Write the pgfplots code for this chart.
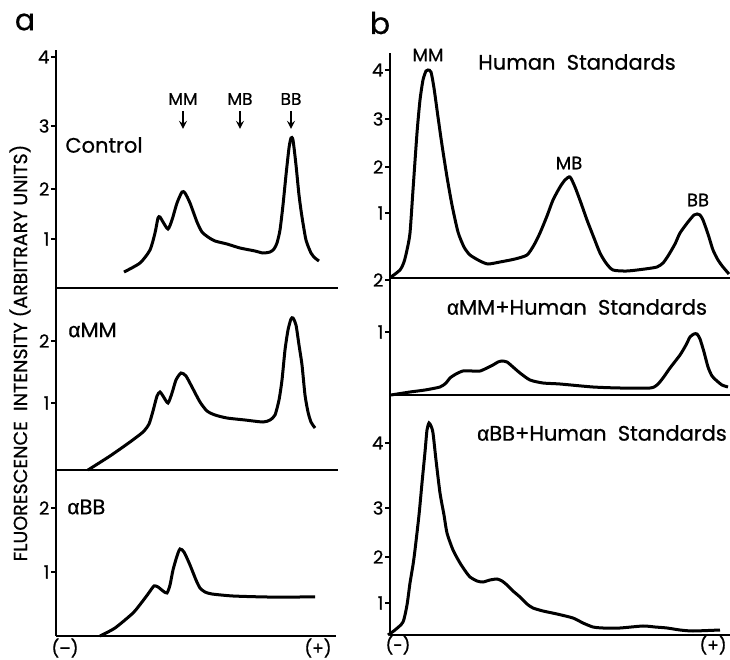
\documentclass[border=0pt]{standalone}
\usepackage{fontspec}
\setmainfont{Poppins}[FakeBold=0.7]
\newfontfamily\gk{Liberation Sans}[FakeBold=0.7]
\usepackage{pgfplots}
\pgfplotsset{compat=1.18}
\newcommand\fs[1]{\fontsize{#1}{#1}\selectfont}
% all panels share one frame: 1 unit = 1 px of the 730x660 figure, y measured from the bottom
\pgfplotsset{panel/.style={anchor=south west, x=0.5pt, y=0.5pt,
  axis x line*=bottom, axis y line*=left, xtick=\empty,
  tick align=outside, major tick length=2.5pt,
  axis line style={line width=0.9pt}, ytick style={line width=0.8pt, black},
  yticklabel style={font=\fs{9}, inner sep=0.6pt},
  clip=false},
  curve/.style={black, no markers, smooth, tension=0.4, line width=1.5pt}}
\begin{document}
\begin{tikzpicture}
\useasboundingbox (0,0) rectangle (365pt,330pt);

% ---- a: Control
\begin{axis}[panel, at={(28pt,186pt)}, xmin=56, xmax=338, ymin=372, ymax=610,
  ytick={421,471,534,603}, yticklabels={1,2,3,4}]
\addplot[curve] coordinates {(124,388) (140,397) (150,410) (155,427) (158,442) (160,443)
 (163,438) (168,431) (172,440) (177,457) (182,468) (185,467) (190,457) (197,438)
 (202,428) (208,423) (215,419) (227,416) (240,412) (255,409) (263,407) (270,408)
 (274,411) (277,417) (280,430) (283,455) (286,485) (289,512) (291,522) (293,520)
 (296,495) (299,465) (302,443) (306,420) (311,407) (315,402) (319,399)};
\end{axis}

% ---- a: anti-MM
\begin{axis}[panel, at={(28pt,95pt)}, xmin=56, xmax=338, ymin=190, ymax=372,
  ytick={257,319}, yticklabels={1,2}]
\addplot[curve] coordinates {(88,190) (110,204) (130,218) (143,228) (149,236) (153,249)
 (157,264) (160,268) (163,264) (168,257) (172,267) (176,280) (181,287) (186,284)
 (192,273) (200,258) (207,249) (215,245) (227,242) (245,240) (263,238) (270,240)
 (275,245) (279,260) (282,280) (285,310) (288,330) (291,341) (293,342) (296,335)
 (299,315) (302,295) (305,265) (308,248) (311,238) (315,232)};
\end{axis}

% ---- a: anti-BB
\begin{axis}[panel, at={(28pt,12pt)}, xmin=56, xmax=336, ymin=24, ymax=190,
  ytick={88,152}, yticklabels={1,2}]
\addplot[curve] coordinates {(100,24) (115,32) (133,47) (142,58) (148,66) (154,74)
 (158,73) (163,69) (167,67) (170,75) (173,90) (177,104) (180,111) (184,108)
 (190,95) (196,80) (200,72) (205,68) (212,66) (233,64) (267,63) (300,63) (315,63)};
\end{axis}

% ---- b: Human Standards
\begin{axis}[panel, at={(195pt,191pt)}, xmin=390, xmax=730, ymin=382, ymax=607,
  ytick={447,493,541,590}, yticklabels={1,2,3,4}]
\addplot[curve] coordinates {(391,383) (400,390) (404,398) (407,410) (410,427) (413,470)
 (417,527) (420,560) (423,580) (426,589) (428,590) (431,588) (434,572) (438,543)
 (442,515) (447,483) (452,455) (458,428) (464,413) (470,405) (480,399) (488,396)
 (500,398) (515,401) (527,405) (534,415) (540,427) (547,444) (553,460) (560,473)
 (565,480) (570,483) (575,473) (581,457) (587,440) (594,422) (600,407) (606,397)
 (613,390) (627,389) (645,391) (657,393) (663,397) (668,404) (675,416) (680,427)
 (688,438) (694,445) (697,446) (700,445) (703,440) (708,426) (713,410) (718,400)
 (723,393) (729,386)};
\end{axis}

% ---- b: anti-MM + Human Standards
\begin{axis}[panel, at={(195pt,132.5pt)}, xmin=390, xmax=730, ymin=265, ymax=382,
  ytick={328,380}, yticklabels={1,2}]
\addplot[curve] coordinates {(391,265) (410,268) (425,270) (440,273) (446,277) (450,282)
 (456,286) (463,289) (472,289) (480,289) (487,292) (493,295) (498,298) (502,299)
 (507,298) (513,293) (520,287) (530,280) (543,277) (560,276) (593,273) (620,272)
 (650,272) (657,275) (663,282) (670,292) (680,305) (686,315) (690,323) (694,326)
 (697,326) (700,321) (704,308) (708,293) (712,284) (717,279) (722,275) (728,273)};
\end{axis}

% ---- b: anti-BB + Human Standards
\begin{axis}[panel, at={(195pt,12.5pt)}, xmin=390, xmax=730, ymin=25, ymax=265,
  ytick={57,103,152,217}, yticklabels={1,2,3,4}]
\addplot[curve] coordinates {(388,25) (395,30) (403,38) (407,55) (410,77) (413,95)
 (415,110) (419,145) (422,177) (425,208) (427,230) (429,237) (431,234) (433,227)
 (436,200) (440,167) (444,145) (447,127) (453,110) (460,97) (466,88) (470,83)
 (477,79) (483,78) (490,80) (497,81) (502,79) (507,75) (513,69) (520,63) (527,56)
 (533,52) (543,49) (557,46) (573,42) (583,37) (593,33) (603,32) (620,32) (643,34)
 (655,33) (667,32) (680,30) (693,29) (720,30)};
\end{axis}

% ---- labels, in pixel coordinates of the figure (y downwards)
\begin{scope}[shift={(0,330pt)}, x=0.5pt, y=-0.5pt]
\node[font=\fs{15}] at (25,22) {a};
\node[font=\fs{15}] at (380,23) {b};
\node[rotate=90, font=\fs{9.5}] at (20,353) {FLUORESCENCE\ \ INTENSITY (ARBITRARY UNITS)};
\foreach \x/\t in {183/MM, 240/MB, 291/BB} {
  \node[font=\fs{8.5}] at (\x,99) {\t};
  \draw[->, >=stealth, line width=0.8pt] (\x,111) -- (\x,129);
}
\node[font=\fs{10.5}, anchor=west, inner sep=0] at (65,145) {Control};
\node[font=\fs{10.5}, anchor=west, inner sep=0] at (68,330) {{\gk α}MM};
\node[font=\fs{10.5}, anchor=west, inner sep=0] at (67,507) {{\gk α}BB};
\node[font=\fs{8.5}, inner sep=1pt] at (65,648) {(–)};
\node[font=\fs{8.5}, inner sep=1pt] at (318,648) {(+)};
\node[font=\fs{9}] at (428,55) {MM};
\node[font=\fs{10.5}] at (577,62) {Human\ \ Standards};
\node[font=\fs{9}] at (569,163) {MB};
\node[font=\fs{9}] at (698,200) {BB};
\node[font=\fs{10.5}] at (577,307) {{\gk α}MM+Human\ \ Standards};
\node[font=\fs{10.5}] at (602,433) {{\gk α}BB+Human\ \ Standards};
\node[font=\fs{8.5}, inner sep=1pt] at (398,645) {(-)};
\node[font=\fs{8.5}, inner sep=1pt, anchor=east] at (729,645) {(+)};
\end{scope}
\end{tikzpicture}
\end{document}
